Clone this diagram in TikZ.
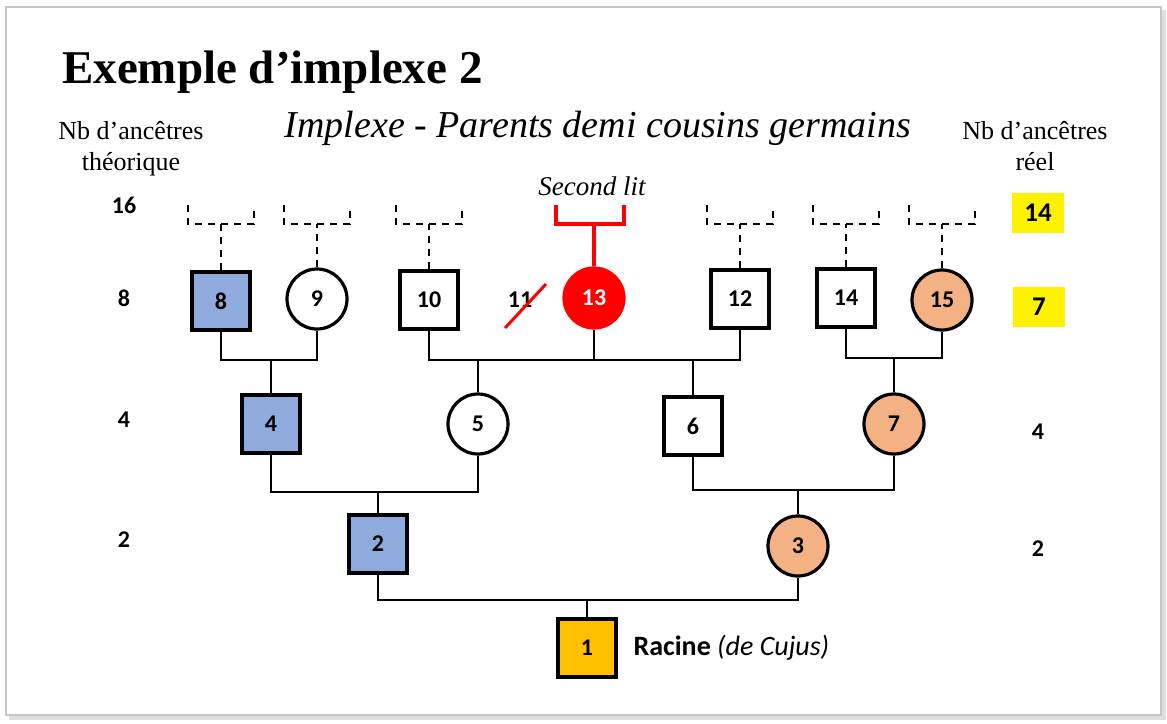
\documentclass[tikz,border=0pt]{standalone}
\usepackage{fontspec}
\setmainfont{Liberation Serif}
\newfontfamily\calib{Carlito}
\usetikzlibrary{calc}
\definecolor{blu}{HTML}{8FAADC}
\definecolor{ora}{HTML}{F4B183}
\definecolor{gold}{HTML}{FFC000}
\begin{document}
\begin{tikzpicture}[x=1pt,y=-1pt,
  numfont/.style={font=\calib\bfseries\fontsize{24}{24}\selectfont},
  sq/.style={draw, line width=4pt, minimum size=58pt, inner sep=0pt, numfont},
  ci/.style={circle, draw, line width=3.2pt, minimum size=60pt, inner sep=0pt, numfont},
  link/.style={line width=2pt},
  dashline/.style={line width=2.5pt, dash pattern=on 7pt off 6pt},
  redline/.style={draw=red, line width=3.5pt},
  sidenum/.style={numfont},
  ybox/.style={fill=yellow, minimum width=52pt, minimum height=40pt, inner sep=0pt, font=\calib\bfseries\fontsize{27}{27}\selectfont},
  hdr/.style={align=center, font=\fontsize{26}{31}\selectfont}
]
\useasboundingbox (0,0) rectangle (1167,723);
% frame
\fill[gray!25] (9,10) rectangle (1166,720);
\fill[white] (6,7) rectangle (1161,715);
\draw[gray!45, line width=1.2pt] (6,7) rectangle (1161,715);

% titles
\node[anchor=base west, font=\bfseries\fontsize{47}{50}\selectfont, inner sep=0pt] (title) at (62,83) {Exemple d’implexe 2};
\node[anchor=base, font=\itshape\fontsize{38}{40}\selectfont, inner sep=0pt] (sub) at (598,137) {Implexe - Parents demi cousins germains};
\node[hdr, anchor=north] (hl) at (131,118) {Nb d’ancêtres\\théorique};
\node[hdr, anchor=north] (hr) at (1035,118) {Nb d’ancêtres\\réel};
\node[anchor=base, font=\itshape\fontsize{27}{30}\selectfont, inner sep=0pt] (sl) at (592,195) {Second lit};

% side numbers
\node[sidenum] (l16) at (124,205) {16};
\node[sidenum] (l8) at (124,298) {8};
\node[sidenum] (l4) at (124,420) {4};
\node[sidenum] (l2) at (124,540) {2};
\node[ybox] (r14) at (1038,213) {14};
\node[ybox] (r7) at (1039,307) {7};
\node[sidenum] (r4) at (1038,432) {4};
\node[sidenum] (r2) at (1038,549) {2};

% persons
\node[sq, fill=blu] (n8) at (221,301) {8};
\node[ci] (n9) at (317,299) {9};
\node[sq] (n10) at (429,300) {10};
\node[numfont] (n11) at (520,300) {11};
\node[ci, fill=red, draw=red, text=white] (n13) at (594,298) {13};
\node[sq] (n12) at (740,299) {12};
\node[sq] (n14) at (846,298) {14};
\node[ci, fill=ora] (n15) at (942,300) {15};
\node[sq, fill=blu] (n4) at (271,424) {4};
\node[ci] (n5) at (478,424) {5};
\node[sq] (n6) at (693,426) {6};
\node[ci, fill=ora] (n7) at (894,424) {7};
\node[sq, fill=blu] (n2) at (378,544) {2};
\node[ci, fill=ora] (n3) at (798,546) {3};
\node[sq, fill=gold] (n1) at (587,648) {1};
\node[anchor=west, font=\calib\fontsize{28}{28}\selectfont] (rac) at (630,648) {\textbf{Racine} \textit{(de Cujus)}};

% level coordinates
\coordinate (hA) at (0,360);
\coordinate (hB) at (0,358);
\coordinate (hC) at (0,492);
\coordinate (hD) at (0,490);
\coordinate (hE) at (0,600);
\coordinate (t205) at (0,205);
\coordinate (t224) at (0,224);

% connectors
\draw[link] (n8.south) |- (n9.south |- hA) -- (n9.south);
\draw[link] (n4.north) -- (n4.north |- hA);
\draw[link] (n10.south) |- (n12.south |- hA) -- (n12.south);
\draw[link] (n13.south) -- (n13.south |- hA);
\draw[link] (n5.north) -- (n5.north |- hA);
\draw[link] (n6.north) -- (n6.north |- hA);
\draw[link] (n14.south) |- (n15.south |- hB) -- (n15.south);
\draw[link] (n7.north) -- (n7.north |- hB);
\draw[link] (n4.south) |- (n5.south |- hC) -- (n5.south);
\draw[link] (n2.north) -- (n2.north |- hC);
\draw[link] (n6.south) |- (n7.south |- hD) -- (n7.south);
\draw[link] (n3.north) -- (n3.north |- hD);
\draw[link] (n2.south) |- (n3.south |- hE) -- (n3.south);
\draw[link] (n1.north) -- (n1.north |- hE);

% dashed brackets (unknown parents)
\foreach \n in {n8,n9,n10,n12,n14,n15}{
  \draw[dashline] (\n.north) -- (\n.north |- t224);
  \draw[dashline] ($(\n.north |- t205)+(-33,0)$) -- ($(\n.north |- t224)+(-33,0)$) -- ($(\n.north |- t224)+(33,0)$) -- ($(\n.north |- t205)+(33,0)$);
}

% second marriage bracket
\draw[redline] (n13.north) -- ($(n13.north |- t224)$);
\draw[redline] ($(n13.north |- t205)+(-38,0)$) -- ($(n13.north |- t224)+(-38,0)$) -- ($(n13.north |- t224)+(30,0)$) -- ($(n13.north |- t205)+(30,0)$);

% strike on 11
\draw[red, line width=3pt] ($(n11)+(-15,28)$) -- ($(n11)+(26,-16)$);
\end{tikzpicture}
\end{document}
